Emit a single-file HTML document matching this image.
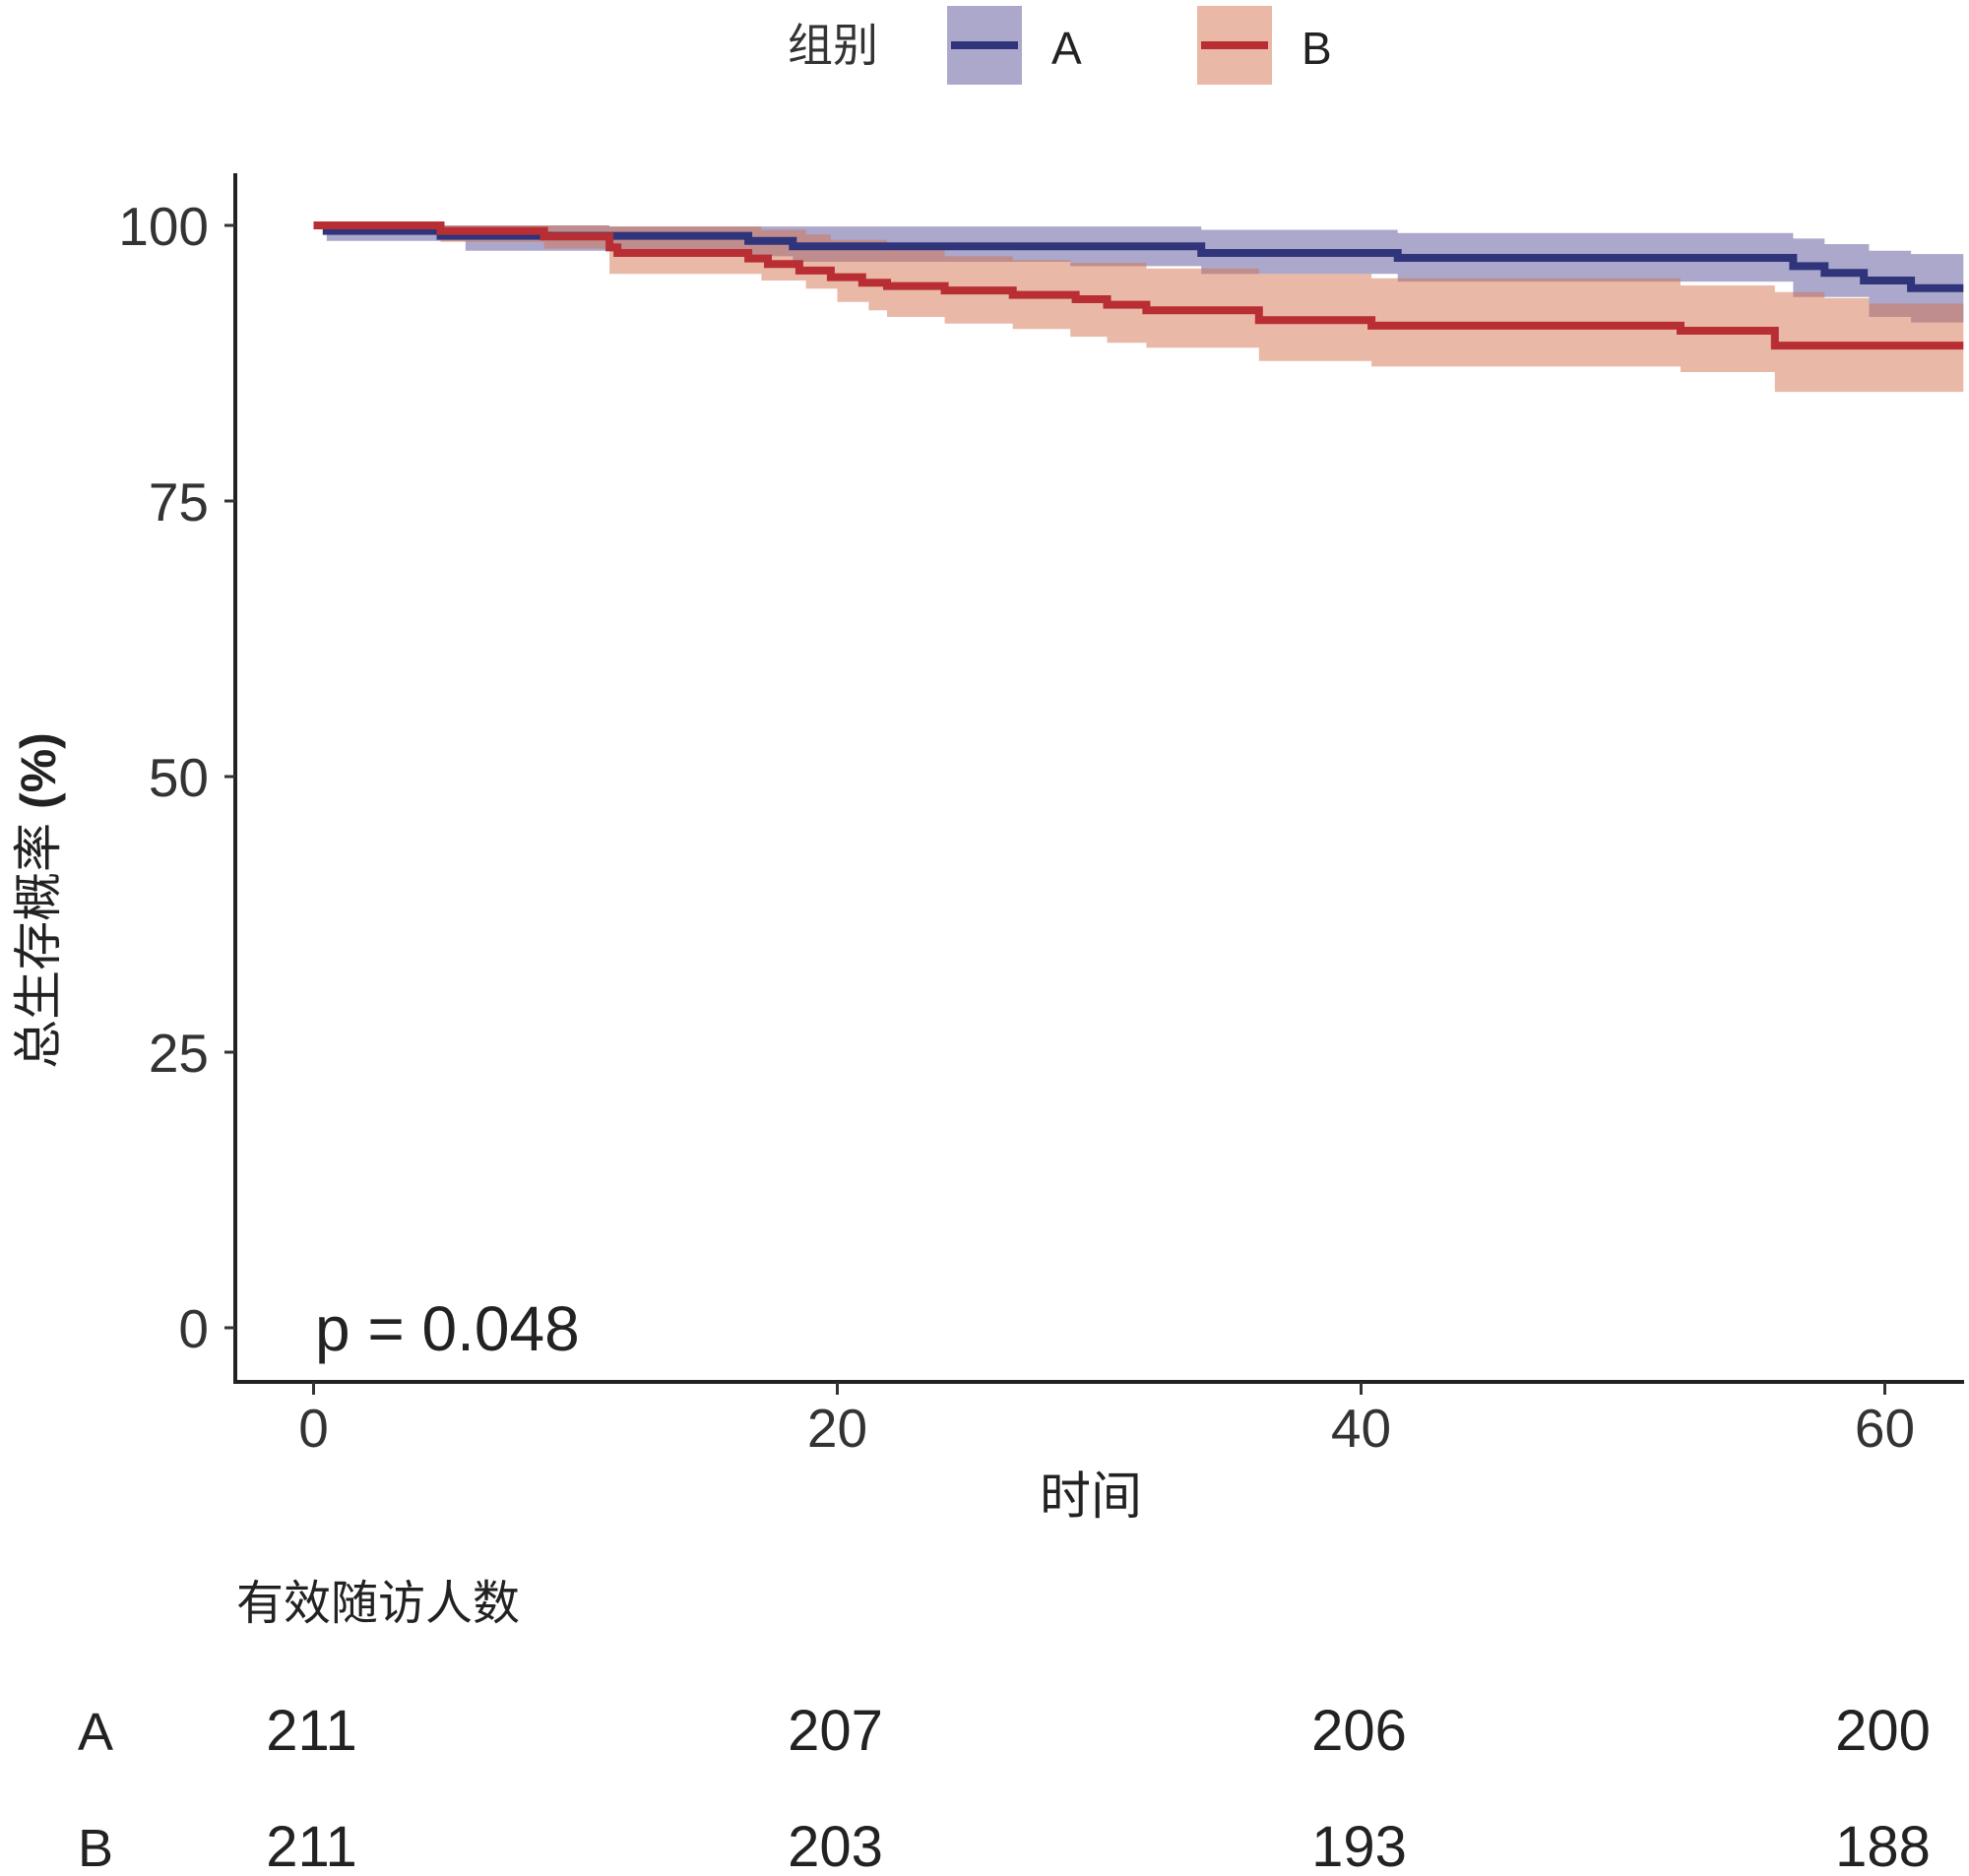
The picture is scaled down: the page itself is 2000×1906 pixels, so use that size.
<!DOCTYPE html>
<html><head><meta charset="utf-8">
<style>
html,body{margin:0;padding:0;background:#fff;}
svg{display:block;font-family:"Liberation Sans","Noto Sans CJK SC",sans-serif;}
</style></head>
<body>
<svg id="chart" width="2000" height="1906" viewBox="0 0 2000 1906" xmlns="http://www.w3.org/2000/svg">
  <g id="legend">
    <text x="800" y="62" font-size="46" fill="#333">组别</text>
    <rect x="962" y="6" width="76" height="80" fill="rgba(87,81,153,0.5)"/>
    <line x1="966" x2="1034" y1="46" y2="46" stroke="#30347a" stroke-width="8"/>
    <text x="1068" y="65" font-size="46" fill="#222">A</text>
    <rect x="1216" y="6" width="76" height="80" fill="rgba(211,113,77,0.5)"/>
    <line x1="1220" x2="1288" y1="46" y2="46" stroke="#b82e33" stroke-width="8"/>
    <text x="1322" y="65" font-size="46" fill="#222">B</text>
  </g>
  <g id="bands"></g>
  <g id="lines"></g>
  <g id="axes"></g>
  <text x="320" y="1372" font-size="64" fill="#222">p = 0.048</text>
  <text transform="translate(56,915) rotate(-90)" text-anchor="middle" font-size="50" fill="#222">总生存概率 <tspan font-weight="bold">(%)</tspan></text>
  <text x="1108" y="1538" text-anchor="middle" font-size="52" fill="#222">时间</text>
  <text x="240" y="1645" font-size="48" fill="#222">有效随访人数</text>
  <g id="risk"></g>
</svg>
<script>
const xTicks = [0, 20, 40, 60];
const yTicks = [0, 25, 50, 75, 100];
const groups = ['A', 'B'];
const riskA = [211, 207, 206, 200];
const riskB = [211, 203, 193, 188];

const aTimes = [0, 0.5, 4.85, 16.6, 18.3, 33.9, 41.4, 56.5, 57.7, 59.2, 61.0];
const aVals = [100, 99.5, 99.05, 98.6, 98.1, 97.5, 97.05, 96.3, 95.7, 95.0, 94.3];
const aUpTimes = [0, 11.3, 33.9, 41.4, 56.5, 57.7, 59.4, 61.0];
const aUpVals = [100, 99.9, 99.6, 99.3, 98.8, 98.3, 97.7, 97.4];
const aLoTimes = [0, 0.5, 5.8, 16.6, 18.3, 28.9, 33.9, 41.4, 56.5, 59.4, 61.0];
const aLoVals = [100, 98.6, 97.7, 97.2, 96.7, 96.3, 95.6, 94.9, 93.5, 91.7, 91.2];

const bTimes = [0, 4.85, 8.8, 11.3, 11.6, 16.6, 17.35, 18.55, 19.75, 20.95, 21.9, 24.1, 26.7, 29.1, 30.3, 31.8, 36.1, 40.4, 52.2, 55.8];
const bVals = [100, 99.5, 99.0, 98.0, 97.5, 97.0, 96.5, 95.9, 95.3, 94.8, 94.5, 94.1, 93.7, 93.3, 92.8, 92.3, 91.4, 90.9, 90.45, 89.1];
const bUpTimes = [0, 11.3, 17.1, 18.8, 19.75, 21.9, 24.1, 26.7, 28.9, 31.8, 36.1, 40.4, 52.2, 55.8, 57.7, 59.4];
const bUpVals = [100, 99.9, 99.6, 99.17, 98.7, 98.3, 97.2, 96.85, 96.6, 96.1, 95.6, 95.2, 94.55, 93.95, 93.4, 92.9];
const bLoTimes = [0, 4.85, 8.8, 11.3, 17.1, 18.8, 20.0, 21.2, 21.9, 24.1, 26.7, 28.9, 30.3, 31.8, 36.1, 40.4, 52.2, 55.8];
const bLoVals = [100, 98.5, 97.9, 95.6, 95.0, 94.26, 93.06, 92.3, 91.7, 91.1, 90.6, 89.9, 89.35, 88.9, 87.7, 87.2, 86.7, 84.9];

const NS = 'http://www.w3.org/2000/svg';
const tMax = 63.0;
const X = t => 318.5 + t * 26.6;
const Y = v => 1349 - v * 11.2;

function stepPts(ts, vs) {
  const pts = [];
  for (let i = 0; i < ts.length; i++) {
    if (i > 0) pts.push([X(ts[i]), Y(vs[i - 1])]);
    pts.push([X(ts[i]), Y(vs[i])]);
  }
  pts.push([X(tMax), Y(vs[vs.length - 1])]);
  return pts;
}
function mk(tag, attrs, parent) {
  const e = document.createElementNS(NS, tag);
  for (const k in attrs) e.setAttribute(k, attrs[k]);
  parent.appendChild(e);
  return e;
}
const bands = document.getElementById('bands');
const lines = document.getElementById('lines');
function band(upT, upV, loT, loV, fill, name) {
  const up = stepPts(upT, upV);
  const lo = stepPts(loT, loV).reverse();
  const d = 'M' + up.concat(lo).map(p => p[0].toFixed(1) + ',' + p[1].toFixed(1)).join('L') + 'Z';
  const p = mk('path', {d: d, fill: fill}, bands);
  
  
}
function line(ts, vs, color, name) {
  const d = 'M' + stepPts(ts, vs).map(p => p[0].toFixed(1) + ',' + p[1].toFixed(1)).join('L');
  const p = mk('path', {d: d, fill: 'none', stroke: color, 'stroke-width': 8}, lines);
  
  
}
band(aUpTimes, aUpVals, aLoTimes, aLoVals, 'rgba(87,81,153,0.5)', 'confidence-band-a');
band(bUpTimes, bUpVals, bLoTimes, bLoVals, 'rgba(211,113,77,0.5)', 'confidence-band-b');
line(aTimes, aVals, '#30347a', 'survival-curve-a');
line(bTimes, bVals, '#b82e33', 'survival-curve-b');

const axes = document.getElementById('axes');
const ya = mk('line', {x1: 239, x2: 239, y1: 176, y2: 1406, stroke: '#222', 'stroke-width': 4}, axes);


const xa = mk('line', {x1: 237, x2: 1995, y1: 1404, y2: 1404, stroke: '#222', 'stroke-width': 4}, axes);


yTicks.forEach(v => {
  const tk = mk('line', {x1: 228, x2: 239, y1: Y(v), y2: Y(v), stroke: '#333', 'stroke-width': 3}, axes);
  
  
  const tx = mk('text', {x: 212, y: Y(v) + 20, 'text-anchor': 'end', 'font-size': 55, fill: '#333'}, axes);
  tx.textContent = v;
  
  
});
xTicks.forEach(t => {
  const tk = mk('line', {x1: X(t), x2: X(t), y1: 1404, y2: 1417, stroke: '#333', 'stroke-width': 3}, axes);
  
  
  const tx = mk('text', {x: X(t), y: 1470, 'text-anchor': 'middle', 'font-size': 55, fill: '#333'}, axes);
  tx.textContent = t;
  
  
});

const risk = document.getElementById('risk');
const rows = [riskA, riskB];
const rowY = [1778, 1896];
groups.forEach((g, i) => {
  const lb = mk('text', {x: 97, y: rowY[i], 'text-anchor': 'middle', 'font-size': 54, fill: '#222'}, risk);
  lb.textContent = g;
  
  
  rows[i].forEach((n, j) => {
    const tx = mk('text', {x: X(xTicks[j]) - 2, y: rowY[i], 'text-anchor': 'middle', 'font-size': 58, fill: '#222'}, risk);
    tx.textContent = n;
    
    
  });
});
</script>
</body></html>
